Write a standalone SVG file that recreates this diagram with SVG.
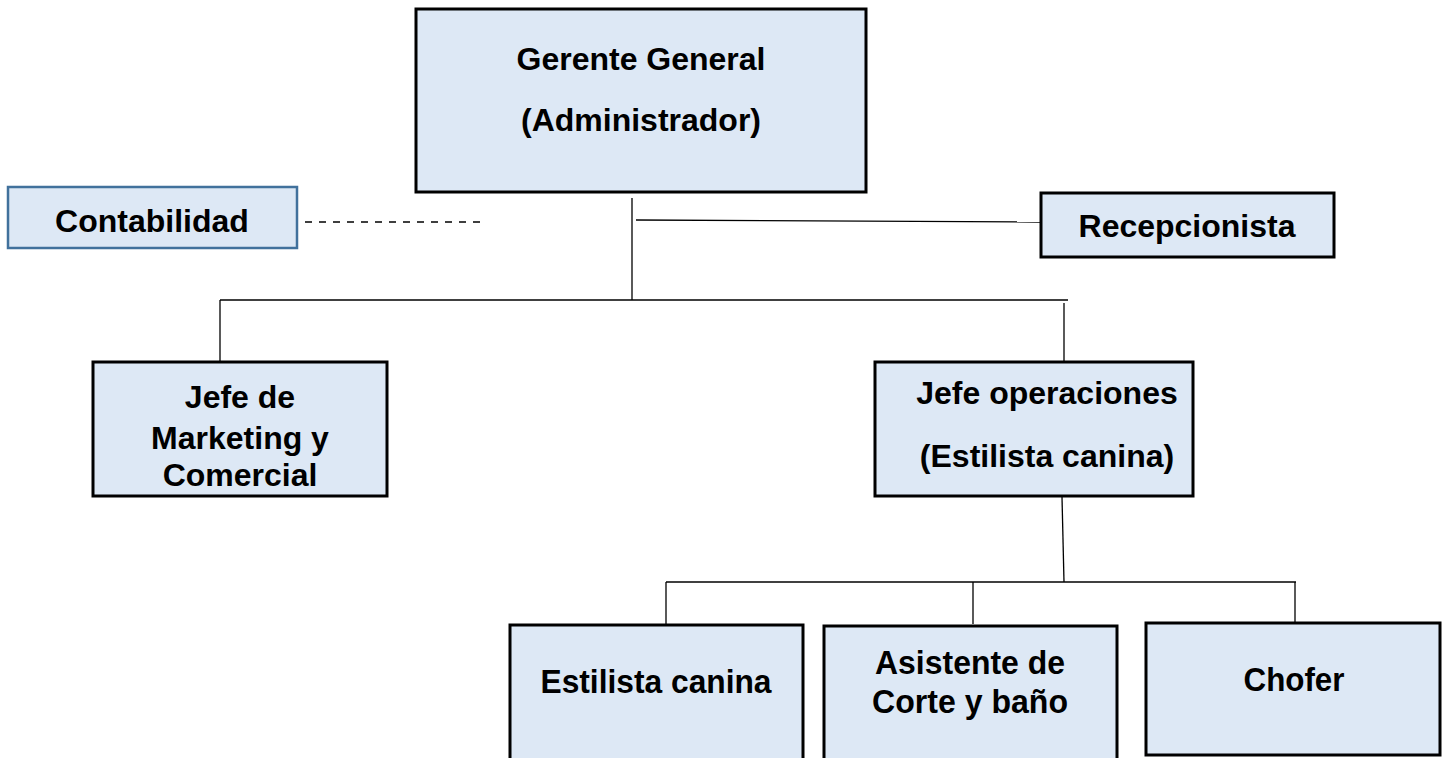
<svg xmlns="http://www.w3.org/2000/svg" width="1448" height="758" viewBox="0 0 1448 758">
<style>
.box{fill:#dde8f5;stroke:#000;stroke-width:3}
.boxb{fill:#dde8f5;stroke:#41719c;stroke-width:2.5}
.t{font-family:"Liberation Sans",Arial,sans-serif;font-weight:bold;font-size:32px;fill:#000;text-anchor:middle}
.tc{font-family:"Liberation Sans",Arial,sans-serif;font-weight:bold;font-size:33px;fill:#000;text-anchor:middle}
.c{stroke:#000;stroke-width:1.3;fill:none}
</style>
<rect width="1448" height="758" fill="#fff"/>
<g id="connectors">
<line class="c" x1="632" y1="198" x2="632" y2="300"/>
<line class="c" x1="636" y1="220" x2="1041" y2="222"/>
<line class="c" x1="305" y1="222" x2="485" y2="222" stroke-dasharray="7,7"/>
<line class="c" x1="220" y1="300" x2="1068" y2="300"/>
<line class="c" x1="220" y1="300" x2="220" y2="362"/>
<line class="c" x1="1064" y1="303" x2="1064" y2="362"/>
<line class="c" x1="1062" y1="497" x2="1064" y2="582"/>
<line class="c" x1="666" y1="582" x2="1296" y2="582"/>
<line class="c" x1="666" y1="582" x2="666" y2="624"/>
<line class="c" x1="973" y1="582" x2="973" y2="624"/>
<line class="c" x1="1295" y1="582" x2="1295" y2="622"/>
</g>
<g id="gerente">
<rect class="box" x="416" y="9" width="450" height="183"/>
<text class="t" x="641" y="70">Gerente General</text>
<text class="t" x="641" y="131">(Administrador)</text>
</g>
<g id="contabilidad">
<rect class="boxb" x="8" y="187" width="289" height="61"/>
<text class="t" x="152" y="232">Contabilidad</text>
</g>
<g id="recepcionista">
<rect class="box" x="1041" y="193" width="293" height="64"/>
<text class="t" x="1187" y="237">Recepcionista</text>
</g>
<g id="marketing">
<rect class="box" x="93" y="362" width="294" height="134"/>
<text class="t" x="240" y="408">Jefe de</text>
<text class="t" x="240" y="449">Marketing y</text>
<text class="t" x="240" y="486">Comercial</text>
</g>
<g id="operaciones">
<rect class="box" x="875" y="362" width="318" height="134"/>
<text class="t" x="1047" y="404">Jefe operaciones</text>
<text class="t" x="1047" y="467">(Estilista canina)</text>
</g>
<g id="estilista">
<rect class="box" x="510" y="625" width="293" height="140"/>
<text class="tc" x="656" y="693" textLength="231" lengthAdjust="spacingAndGlyphs">Estilista canina</text>
</g>
<g id="asistente">
<rect class="box" x="824" y="626" width="293" height="140"/>
<text class="tc" x="970" y="674" textLength="190" lengthAdjust="spacingAndGlyphs">Asistente de</text>
<text class="tc" x="970" y="713" textLength="196" lengthAdjust="spacingAndGlyphs">Corte y baño</text>
</g>
<g id="chofer">
<rect class="box" x="1146" y="623" width="294" height="132"/>
<text class="tc" x="1294" y="691" textLength="101" lengthAdjust="spacingAndGlyphs">Chofer</text>
</g>
</svg>
